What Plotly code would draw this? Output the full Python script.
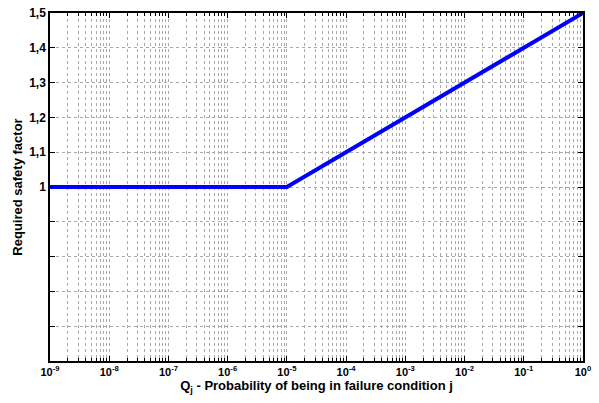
import numpy as np
import plotly.graph_objects as go

# Required safety factor vs. probability of failure condition
q_values = [1e-9, 1e-5, 1e0]
safety_factor = [1.0, 1.0, 1.5]

x_tick_vals = [10.0 ** e for e in range(-9, 1)]
x_tick_text = ["10<sup>%d</sup>" % e for e in range(-9, 1)]
x_minor_vals = [m * 10.0 ** e for e in range(-9, 0) for m in range(2, 10)]

y_tick_vals = [0.5, 0.6, 0.7, 0.8, 0.9, 1.0, 1.1, 1.2, 1.3, 1.4, 1.5]
y_tick_text = ["", "", "", "", "", "1", "1,1", "1,2", "1,3", "1,4", "1,5"]

font_family = "Liberation Sans"

fig = go.Figure()
fig.add_trace(go.Scatter(
    x=q_values, y=safety_factor, mode="lines",
    line=dict(color="#0000ff", width=4),
    showlegend=False,
))

fig.update_layout(
    width=599, height=403,
    margin=dict(l=50, r=16, t=13, b=42),
    paper_bgcolor="white", plot_bgcolor="white",
    font=dict(family=font_family, color="black", size=11),
)

fig.update_xaxes(
    type="log", range=[-9, 0], automargin=False,
    tickmode="array", tickvals=x_tick_vals, ticktext=x_tick_text,
    tickfont=dict(family=font_family, size=11, weight="bold"),
    ticks="inside", ticklen=5, tickcolor="black",
    showline=True, linecolor="black", linewidth=1.5, mirror="ticks",
    showgrid=True, gridcolor="#a8a8a8", griddash="dot", gridwidth=1,
    minor=dict(tickmode="array", tickvals=x_minor_vals, ticks="inside",
               ticklen=3, tickcolor="black", showgrid=True,
               gridcolor="#a8a8a8", griddash="dot", gridwidth=1),
    zeroline=False,
    title=dict(text="Q<sub>j</sub> - Probability of being in failure condition j",
               font=dict(family=font_family, size=13, weight="bold"),
               standoff=4),
)

fig.update_yaxes(
    range=[0.5, 1.5], automargin=False,
    tickmode="array", tickvals=y_tick_vals, ticktext=y_tick_text,
    tickfont=dict(family=font_family, size=12, weight="bold"),
    ticks="inside", ticklen=5, tickcolor="black",
    showline=True, linecolor="black", linewidth=1.5, mirror="ticks",
    showgrid=True, gridcolor="#a8a8a8", griddash="dot", gridwidth=1,
    zeroline=False,
    title=dict(text="Required safety factor",
               font=dict(family=font_family, size=13, weight="bold"),
               standoff=4),
)

fig.write_html("out.html")
